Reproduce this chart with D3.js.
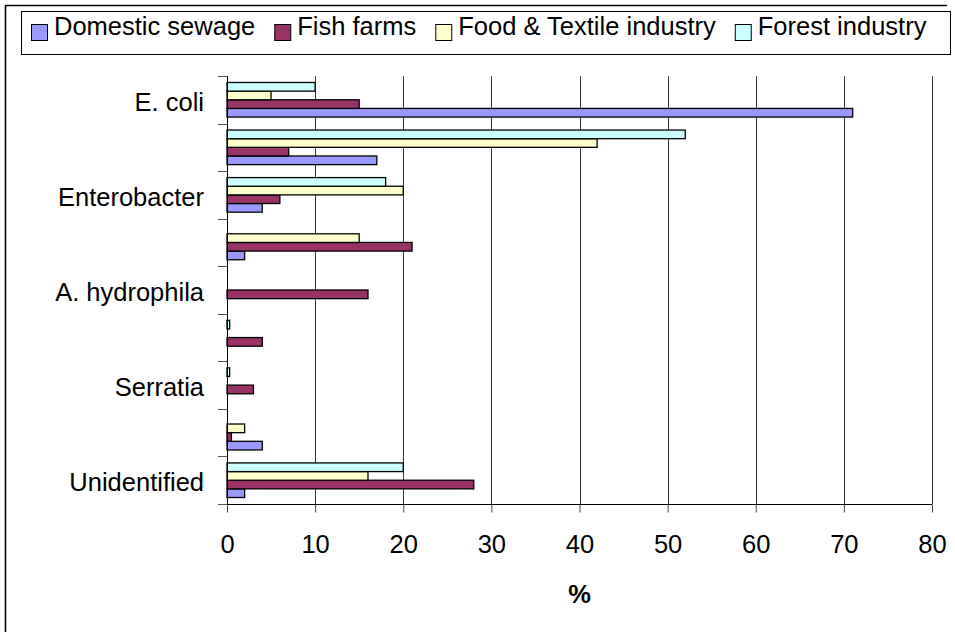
<!DOCTYPE html>
<html>
<head>
<meta charset="utf-8">
<script src="https://cdn.jsdelivr.net/npm/d3@7"></script>
<style>
  html, body { margin: 0; padding: 0; background: #fff; }
  svg { display: block; }
  text { font-family: "Liberation Sans", Arial, sans-serif; fill: #000; }
</style>
</head>
<body>
<svg id="chart" width="955" height="632"></svg>
<script>
// ---- data ----
const categories = ["E. coli", "Klebsiella", "Enterobacter", "Citrobacter", "A. hydrophila", "Pseudomonas", "Serratia", "Hafnia", "Unidentified"];
const shownCategories = ["E. coli", "Enterobacter", "A. hydrophila", "Serratia", "Unidentified"];
const seriesNames = ["Domestic sewage", "Fish farms", "Food & Textile industry", "Forest industry"];
const domesticSewage = [71, 17, 4, 2, 0, 0, 0, 4, 2];
const fishFarms      = [15, 7, 6, 21, 16, 4, 3, 0.5, 28];
const foodTextile    = [5, 42, 20, 15, 0, 0, 0, 2, 16];
const forestIndustry = [10, 52, 18, 0, 0, 0.3, 0.3, 0, 20];
const xTicks = [0, 10, 20, 30, 40, 50, 60, 70, 80];
const xTitle = "%";
const seriesColors = ["#9999FF", "#993366", "#FFFFCC", "#CCFFFF"];

const seriesValues = [domesticSewage, fishFarms, foodTextile, forestIndustry];

// ---- layout ----
const svg = d3.select("#chart");
const FS = 25.5;
const plot = { left: 227, right: 932, top: 76, bottom: 504 };

// outer frame (left and top edges visible)
svg.append("path")
  .attr("d", `M5.5,632 L5.5,5.5 L947,5.5`)
  .attr("fill", "none").attr("stroke", "#000").attr("stroke-width", 1.6);

const x = d3.scaleLinear().domain([0, 80]).range([plot.left, plot.right]);
const y = d3.scaleBand().domain(categories).range([plot.top, plot.bottom]).paddingInner(0).paddingOuter(0);
// top-to-bottom order inside a group: last series on top
const sub = d3.scaleBand().domain(d3.range(seriesNames.length).reverse())
  .range([0, y.bandwidth()]).paddingInner(0).paddingOuter(0.75);

// gridlines
svg.append("g").selectAll("line")
  .data(xTicks.filter(t => t > 0))
  .join("line")
  .attr("x1", d => Math.round(x(d)) + 0.5).attr("x2", d => Math.round(x(d)) + 0.5)
  .attr("y1", plot.top).attr("y2", plot.bottom)
  .attr("stroke", "#3a3a3a").attr("stroke-width", 1);

// bars
const bars = [];
seriesValues.forEach((vals, si) => {
  vals.forEach((v, ci) => { if (v > 0) bars.push({ si, cat: categories[ci], v }); });
});
svg.append("g").selectAll("rect")
  .data(bars)
  .join("rect")
  .attr("x", x(0))
  .attr("y", d => y(d.cat) + sub(d.si))
  .attr("width", d => x(d.v) - x(0))
  .attr("height", sub.bandwidth())
  .attr("fill", d => seriesColors[d.si])
  .attr("stroke", "#000").attr("stroke-width", 1.3);

// x axis
const xAxis = svg.append("g").attr("transform", `translate(0,${plot.bottom + 0.5})`)
  .call(d3.axisBottom(x).tickValues(xTicks).tickSize(8).tickSizeOuter(0).tickPadding(22));
xAxis.select(".domain").attr("stroke", "#000").attr("d", `M${plot.left - 9},0H${plot.right}`);
xAxis.selectAll(".tick line").attr("stroke", "#444");
xAxis.selectAll(".tick text").attr("font-size", FS).attr("font-family", "'Liberation Sans', Arial, sans-serif")
  .attr("fill", "#000").attr("dy", "0.72em");

// y axis (category boundaries as ticks)
const yAxisG = svg.append("g");
yAxisG.append("line")
  .attr("x1", plot.left + 0.5).attr("x2", plot.left + 0.5)
  .attr("y1", plot.top).attr("y2", plot.bottom)
  .attr("stroke", "#000");
const boundaries = categories.map(c => y(c)).concat([y(categories[categories.length - 1]) + y.bandwidth()]);
yAxisG.selectAll("line.b")
  .data(boundaries)
  .join("line").attr("class", "b")
  .attr("x1", plot.left - 9).attr("x2", plot.left)
  .attr("y1", d => Math.round(d) + 0.5).attr("y2", d => Math.round(d) + 0.5)
  .attr("stroke", "#555");
yAxisG.selectAll("text")
  .data(categories.filter(c => shownCategories.includes(c)))
  .join("text")
  .attr("x", 204)
  .attr("y", d => y(d) + y.bandwidth() / 2 + 11)
  .attr("text-anchor", "end")
  .attr("font-size", FS)
  .text(d => d);

// x axis title
svg.append("text")
  .attr("x", (plot.left + plot.right) / 2)
  .attr("y", 603)
  .attr("text-anchor", "middle")
  .attr("font-size", FS)
  .attr("font-weight", "bold")
  .text(xTitle);

// legend
svg.append("rect")
  .attr("x", 21.5).attr("y", 11.5).attr("width", 929).attr("height", 43)
  .attr("fill", "#fff").attr("stroke", "#000").attr("stroke-width", 1);
const lg = svg.append("g");
let lx = 31;
seriesNames.forEach((name, i) => {
  lg.append("rect")
    .attr("x", lx + 0.5).attr("y", 24.5).attr("width", 16).attr("height", 16)
    .attr("fill", seriesColors[i]).attr("stroke", "#000").attr("stroke-width", 1);
  const t = lg.append("text")
    .attr("x", lx + 23).attr("y", 35)
    .attr("font-size", FS)
    .text(name);
  const w = t.node().getComputedTextLength();
  lx = lx + 23 + w + 19;
});
</script>
</body>
</html>
